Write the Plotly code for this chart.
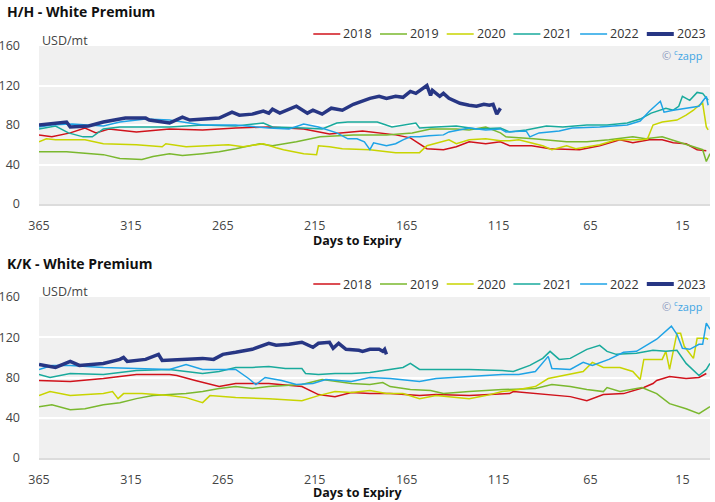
import plotly.graph_objects as go

# ---------------- DATA ----------------
years = ["2018", "2019", "2020", "2021", "2022", "2023"]
x_ticks = [365, 315, 265, 215, 165, 115, 65, 15]
y_ticks = [0, 40, 80, 120, 160]

# H/H - White Premium
hh_2018_days = [365,358,348,340,334,327,312,294,276,258,240,221,207,189,171,163,154,145,138,131,122,114,109,97,87,71,60,49,42,33,26,20,13,7,2]
hh_2018_vals = [70,68,72,77,72,76,73,76,75,77,78,76,71,74,70,67,56,55,58,63,61,63,59,59,56,55,59,65,62,65,65,62,61,55,54]

hh_2019_days = [365,350,330,321,309,303,294,287,276,267,258,245,238,225,212,194,176,162,152,138,131,122,114,111,96,91,78,67,55,42,35,26,17,9,4,2,0]
hh_2019_vals = [53,53,50,46,45,48,51,49,51,53,56,61,59,63,68,70,70,72,76,76,75,78,72,68,66,65,63,63,65,68,66,68,63,58,55,43,51]

hh_2020_days = [365,361,356,349,340,330,312,298,296,285,276,262,254,243,236,232,221,214,213,207,200,185,171,158,154,142,138,131,122,114,109,104,91,86,78,73,60,51,37,34,31,26,18,13,9,6,4,2,1]
hh_2020_vals = [63,66,65,65,65,61,60,58,61,58,59,60,58,61,57,55,51,50,59,58,56,55,52,52,59,65,61,65,66,64,64,65,59,55,59,56,60,65,65,66,80,83,85,90,95,100,102,78,75]

hh_2021_days = [365,356,349,341,336,330,321,307,294,276,258,243,238,221,211,203,197,181,173,160,158,149,138,127,114,109,100,89,80,67,56,45,38,32,26,24,20,17,15,11,7,4,1]
hh_2021_vals = [76,79,72,68,68,76,78,78,78,80,79,82,78,77,76,82,83,83,78,82,77,78,79,76,77,73,75,79,78,80,80,82,86,92,96,97,95,99,109,105,113,112,105]

hh_2022_days = [365,358,347,330,321,307,294,276,258,240,229,221,213,203,197,192,188,185,183,176,171,167,163,158,153,145,142,131,122,114,111,100,98,93,82,75,60,45,38,33,27,25,20,13,6,4,2,1]
hh_2022_vals = [78,80,81,79,83,86,85,80,80,77,76,81,78,72,66,66,63,55,62,59,61,65,68,68,69,70,73,77,75,76,73,74,68,72,74,77,78,80,84,94,104,93,95,97,99,104,109,100]

hh_2023_days = [365,350,348,338,330,318,307,305,294,287,283,276,267,260,256,249,243,240,238,234,225,219,216,211,206,200,194,185,180,176,171,167,163,160,154,152,151,147,145,142,136,131,127,123,120,118,116,114]
hh_2023_vals = [80,83,78,79,83,87,87,85,82,88,85,86,87,93,90,91,94,92,96,92,99,92,95,91,97,95,101,107,109,107,109,108,114,112,120,110,115,109,112,107,102,100,99,101,100,101,91,97]

# K/K - White Premium
kk_2018_days = [365,348,330,312,294,290,280,267,258,240,222,213,204,195,185,174,158,149,131,109,107,95,76,67,58,47,40,36,31,29,22,13,6,2]
kk_2018_vals = [77,76,79,83,83,82,77,71,74,74,71,63,61,65,64,64,62,63,62,64,66,64,61,57,63,64,68,70,74,77,81,79,80,84]

kk_2019_days = [365,358,348,340,330,321,312,303,294,285,276,267,258,249,240,231,222,211,204,195,185,178,174,163,152,145,131,113,95,86,76,67,58,56,49,37,29,22,13,6,0]
kk_2019_vals = [51,53,48,49,53,55,59,62,63,64,66,69,71,69,71,72,73,78,76,74,73,75,71,68,67,64,66,68,69,73,71,68,66,70,66,70,64,54,49,44,51]

kk_2020_days = [365,359,348,330,325,322,319,309,294,285,276,272,258,240,222,213,204,195,185,176,167,158,149,131,122,113,104,95,88,76,69,64,58,49,42,38,36,26,24,22,18,16,14,9,7,2,1]
kk_2020_vals = [62,66,62,64,66,59,64,64,62,60,55,62,60,59,57,62,66,65,67,64,64,59,62,59,62,66,68,71,79,83,86,95,90,90,86,78,98,98,106,88,124,124,111,99,119,119,118]

kk_2021_days = [365,359,348,330,312,294,285,276,267,258,249,240,231,222,220,213,204,195,185,167,163,158,140,131,113,107,98,91,87,82,76,67,60,56,51,40,31,24,18,13,6,2,0]
kk_2021_vals = [83,80,84,83,87,88,86,84,86,90,90,91,89,89,84,83,84,84,85,90,94,88,88,88,87,86,92,99,106,98,99,108,112,106,103,104,107,106,107,94,82,88,94]

kk_2022_days = [365,358,348,330,312,301,294,285,276,267,258,251,247,242,233,225,216,209,195,185,174,158,149,131,113,104,95,88,86,76,69,64,55,47,40,29,21,18,15,11,6,4,2,0]
kk_2022_vals = [88,92,92,90,89,88,88,93,88,88,88,79,73,80,77,73,74,78,76,80,79,76,79,81,83,83,86,101,89,88,95,92,98,105,106,118,131,123,109,108,113,113,134,128]

kk_2023_days = [365,356,348,343,330,321,319,317,307,300,298,285,276,270,265,258,249,240,236,229,222,216,213,207,205,202,198,191,189,185,180,178,177,176]
kk_2023_vals = [93,90,96,92,94,98,100,96,98,103,97,98,99,98,103,105,108,114,112,113,115,110,114,115,109,114,108,107,106,108,108,106,108,103]

hh_series = {
    "2018": (hh_2018_days, hh_2018_vals), "2019": (hh_2019_days, hh_2019_vals),
    "2020": (hh_2020_days, hh_2020_vals), "2021": (hh_2021_days, hh_2021_vals),
    "2022": (hh_2022_days, hh_2022_vals), "2023": (hh_2023_days, hh_2023_vals),
}
kk_series = {
    "2018": (kk_2018_days, kk_2018_vals), "2019": (kk_2019_days, kk_2019_vals),
    "2020": (kk_2020_days, kk_2020_vals), "2021": (kk_2021_days, kk_2021_vals),
    "2022": (kk_2022_days, kk_2022_vals), "2023": (kk_2023_days, kk_2023_vals),
}

# ---------------- STYLE ----------------
colors = {"2018": "#d0121b", "2019": "#7ab82e", "2020": "#c8d400",
          "2021": "#19aa9c", "2022": "#1ea3e6", "2023": "#273684"}
widths = {"2018": 1.5, "2019": 1.5, "2020": 1.5, "2021": 1.5, "2022": 1.5, "2023": 3.5}
FONT = "Open Sans"
W, H, ML, MR = 715, 502, 39, 5
PW = W - ML - MR

def px_x(px):
    return (px - ML) / PW

def px_y(py):
    return 1 - py / H

fig = go.Figure()
for series, xa, ya in [(hh_series, "x", "y"), (kk_series, "x2", "y2")]:
    for yr in years:
        d, v = series[yr]
        fig.add_trace(go.Scatter(
            x=d, y=v, mode="lines", name=yr, xaxis=xa, yaxis=ya, showlegend=False,
            line=dict(color=colors[yr], width=widths[yr]), hoverinfo="x+y+name"))

axis_common_x = dict(range=[365, 0], tickmode="array", tickvals=x_ticks,
                     showgrid=False, zeroline=False, showline=True,
                     linecolor="#dcdcdc", linewidth=2, ticks="",
                     tickfont=dict(family=FONT, size=12.5, color="#444"),
                     ticklabelstandoff=9, fixedrange=True, automargin=False)
axis_common_y = dict(range=[0, 160], tickmode="array", tickvals=y_ticks,
                     showgrid=True, gridcolor="#ffffff", gridwidth=1.5,
                     zeroline=False, showline=False, ticks="",
                     tickfont=dict(family=FONT, size=12.5, color="#444"),
                     ticklabelstandoff=18, fixedrange=True, automargin=False)

fig.update_layout(
    width=W, height=H, margin=dict(l=ML, r=MR, t=0, b=0, autoexpand=False),
    paper_bgcolor="white", plot_bgcolor="#f0f0f0",
    font=dict(family=FONT, color="#333"),
    xaxis=dict(domain=[0, 1], anchor="y", **axis_common_x),
    yaxis=dict(domain=[px_y(204), px_y(46)], anchor="x", **axis_common_y),
    xaxis2=dict(domain=[0, 1], anchor="y2", **axis_common_x),
    yaxis2=dict(domain=[px_y(458), px_y(297)], anchor="x2", **axis_common_y),
    showlegend=False,
)

annotations = []
shapes = []
LEG_X0, LEG_PITCH, LEG_LINE = 313.3, 66.7, 27
for title, ty, uy, xy, wy, ly in [("H/H - White Premium", 12, 40, 240, 55, 34),
                                  ("K/K - White Premium", 263, 291, 492, 306, 284)]:
    annotations.append(dict(text="<b>" + title + "</b>", xref="paper", yref="paper",
                            x=px_x(5), y=px_y(ty), xanchor="left", yanchor="middle",
                            showarrow=False, font=dict(family=FONT, size=14, color="#111")))
    annotations.append(dict(text="USD/mt", xref="paper", yref="paper",
                            x=px_x(40), y=px_y(uy), xanchor="left", yanchor="middle",
                            showarrow=False, font=dict(family=FONT, size=12.5, color="#444")))
    annotations.append(dict(text="<b>Days to Expiry</b>", xref="paper", yref="paper",
                            x=px_x(W / 2), y=px_y(xy), xanchor="center", yanchor="middle",
                            showarrow=False, font=dict(family=FONT, size=12.5, color="#111")))
    annotations.append(dict(text="<span style='color:#8a96bd'>©</span> "
                                 "<span style='color:#3ea5e4'><sup>c</sup>zapp</span>",
                            xref="paper", yref="paper",
                            x=px_x(705), y=px_y(wy), xanchor="right", yanchor="middle",
                            showarrow=False, font=dict(family=FONT, size=11)))
    # legend (line sample + label per year)
    for i, yr in enumerate(years):
        x0 = LEG_X0 + i * LEG_PITCH
        shapes.append(dict(type="line", xref="paper", yref="paper",
                           x0=px_x(x0), x1=px_x(x0 + LEG_LINE), y0=px_y(ly), y1=px_y(ly),
                           line=dict(color=colors[yr], width=1.5 if yr != "2023" else 4)))
        annotations.append(dict(text=yr, xref="paper", yref="paper",
                                x=px_x(x0 + LEG_LINE + 1), y=px_y(ly), xanchor="left",
                                yanchor="middle", showarrow=False,
                                font=dict(family=FONT, size=12.5, color="#333")))
fig.update_layout(annotations=annotations, shapes=shapes)

fig.write_html("out.html", config={"displayModeBar": False},
               post_script="document.body.style.margin='0';")
